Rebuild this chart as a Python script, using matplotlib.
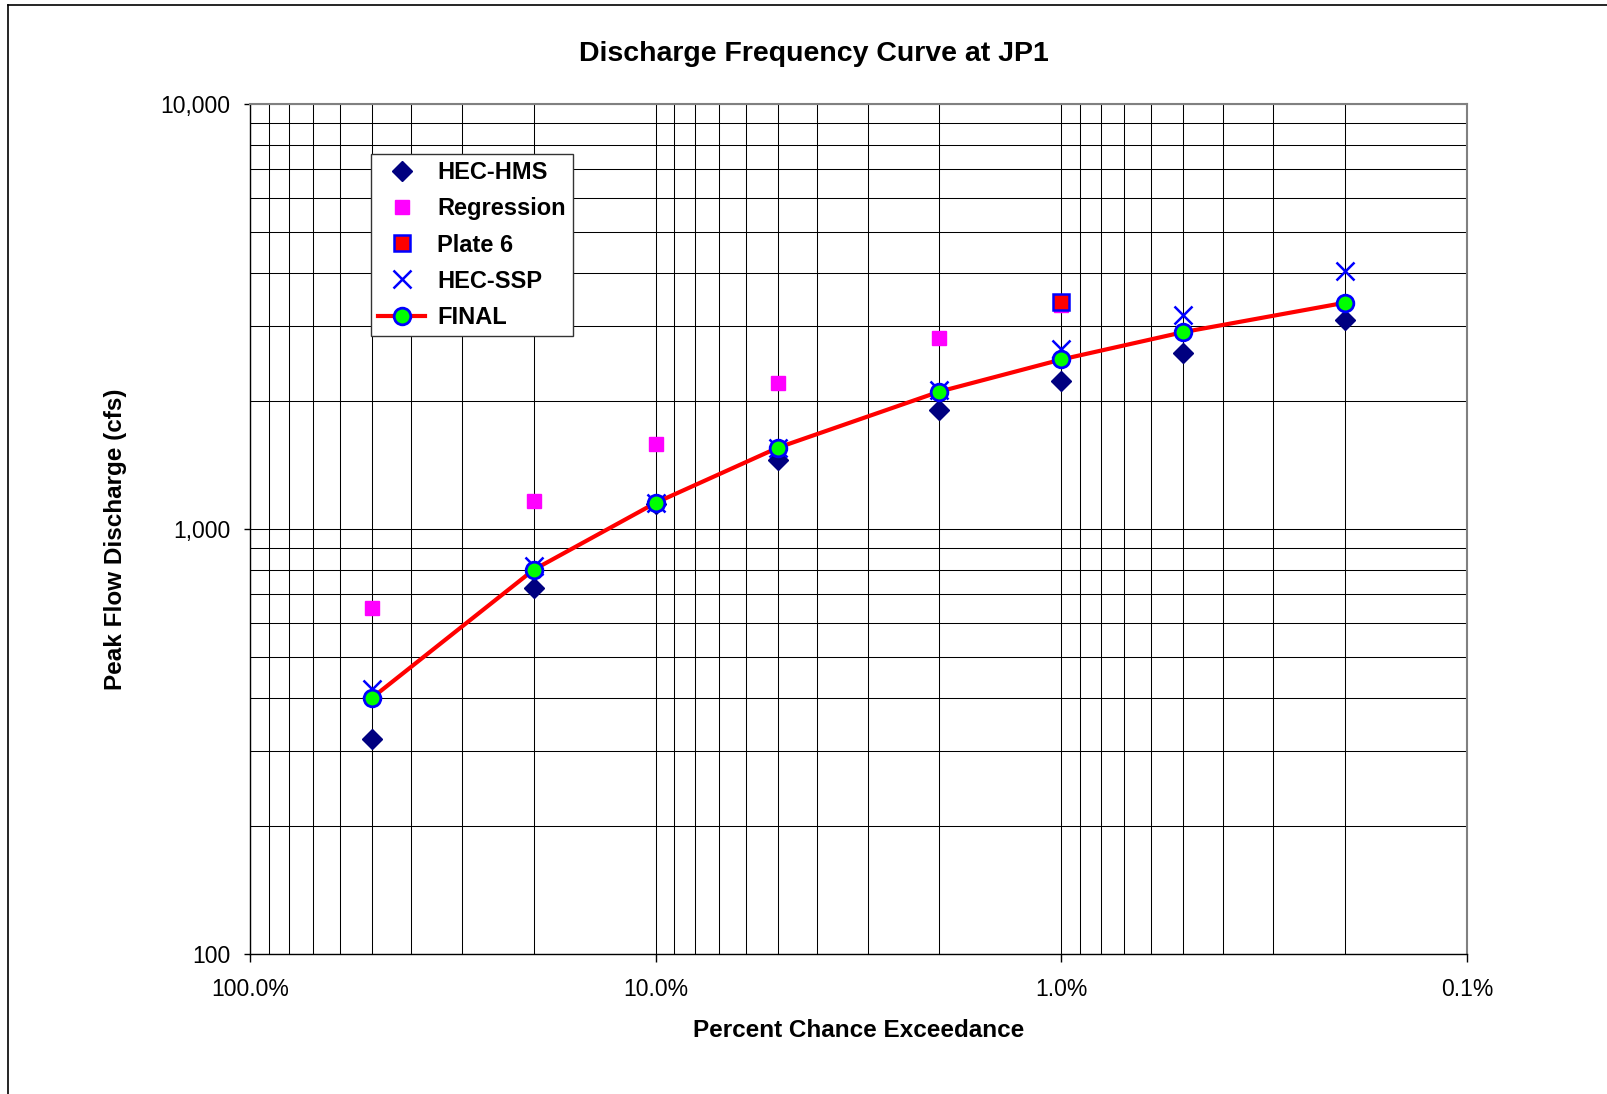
import matplotlib
matplotlib.use("Agg")
import matplotlib.pyplot as plt
from matplotlib.lines import Line2D
from matplotlib.ticker import FixedLocator, FuncFormatter, NullFormatter

plt.rcParams["font.family"] = ["Liberation Sans", "DejaVu Sans"]

# --- data ---
pct = [50, 20, 10, 5, 2, 1, 0.5, 0.2]
hec_hms = [320, 725, 1140, 1450, 1900, 2220, 2590, 3100]
reg_pct = [50, 20, 10, 5, 2, 1]
regression = [650, 1160, 1580, 2200, 2810, 3350]
plate6_pct = [1]
plate6 = [3410]
hec_ssp = [420, 815, 1150, 1550, 2120, 2650, 3190, 4040]
final = [400, 800, 1150, 1550, 2100, 2500, 2900, 3400]

x_major = [100, 10, 1, 0.1]
x_minor = [m * d for d in (10, 1, 0.1) for m in range(2, 10)]
y_major = [100, 1000, 10000]
y_minor = [m * d for d in (100, 1000) for m in range(2, 10)]

fig = plt.figure(figsize=(16.08, 10.94), dpi=100)
ax = fig.add_axes([0.1555, 0.1283, 0.7568, 0.7770])

ax.set_xscale("log")
ax.set_yscale("log")
ax.set_xlim(100, 0.1)
ax.set_ylim(100, 10000)

ax.xaxis.set_major_locator(FixedLocator(x_major))
ax.xaxis.set_minor_locator(FixedLocator(x_minor))
ax.yaxis.set_major_locator(FixedLocator(y_major))
ax.yaxis.set_minor_locator(FixedLocator(y_minor))
ax.xaxis.set_major_formatter(FuncFormatter(lambda v, p: f"{v:.1f}%"))
ax.yaxis.set_major_formatter(FuncFormatter(lambda v, p: f"{v:,.0f}"))
ax.xaxis.set_minor_formatter(NullFormatter())
ax.yaxis.set_minor_formatter(NullFormatter())

ax.grid(True, which="both", color="black", linewidth=0.75)
ax.set_axisbelow(True)
ax.tick_params(which="minor", length=0)
ax.tick_params(axis="x", which="major", direction="out", length=5.5, width=1, pad=12, labelsize=16.5)
ax.tick_params(axis="y", which="major", direction="out", length=4, width=1, pad=10, labelsize=16.5)

for side in ("top", "right"):
    ax.spines[side].set_color("#808080")
    ax.spines[side].set_linewidth(1.5)
for side in ("left", "bottom"):
    ax.spines[side].set_color("black")
    ax.spines[side].set_linewidth(1.0)

ax.plot(pct, hec_hms, linestyle="none", marker="D", markersize=10,
        color="#000080", label="HEC-HMS", zorder=3)
ax.plot(reg_pct, regression, linestyle="none", marker="s", markersize=10,
        color="#FF00FF", label="Regression", zorder=3)
ax.plot(plate6_pct, plate6, linestyle="none", marker="s", markersize=12,
        markerfacecolor="#FF0000", markeredgecolor="#0000FF", markeredgewidth=1.8,
        label="Plate 6", zorder=4)
ax.plot(pct, hec_ssp, linestyle="none", marker="x", markersize=13,
        markeredgewidth=1.8, color="#0000FF", label="HEC-SSP", zorder=3)
ax.plot(pct, final, color="#FF0000", linewidth=3, marker="o", markersize=12,
        markerfacecolor="#00FF00", markeredgecolor="#0000FF", markeredgewidth=2,
        label="FINAL", zorder=5)

fig.text(0.506, 0.951, "Discharge Frequency Curve at JP1", fontsize=20.5,
         fontweight="bold", ha="center", va="center")

ax.set_xlabel("Percent Chance Exceedance", fontsize=17.5, fontweight="bold")
ax.set_ylabel("Peak Flow Discharge (cfs)", fontsize=17.5, fontweight="bold")
ax.xaxis.set_label_coords(0.5, -0.0766)
ax.yaxis.set_label_coords(-0.1015, 0.487)

leg = ax.legend(loc="upper left", bbox_to_anchor=(0.0994, 0.9407), borderaxespad=0,
                prop={"weight": "bold", "size": 17}, frameon=True,
                fancybox=False, shadow=False, borderpad=0.3, labelspacing=0.56,
                handlelength=2.0, handletextpad=0.5)
leg.get_frame().set_edgecolor("#333333")
leg.get_frame().set_linewidth(1.0)
leg.get_frame().set_alpha(1)

# outer chart-area border (left and top edges visible)
fig.add_artist(Line2D([0.0047, 0.0047], [0.0, 0.9954], transform=fig.transFigure,
                      color="black", linewidth=1.2))
fig.add_artist(Line2D([0.0047, 1.0], [0.9954, 0.9954], transform=fig.transFigure,
                      color="black", linewidth=1.2))

fig.savefig("out.png", dpi=100)
